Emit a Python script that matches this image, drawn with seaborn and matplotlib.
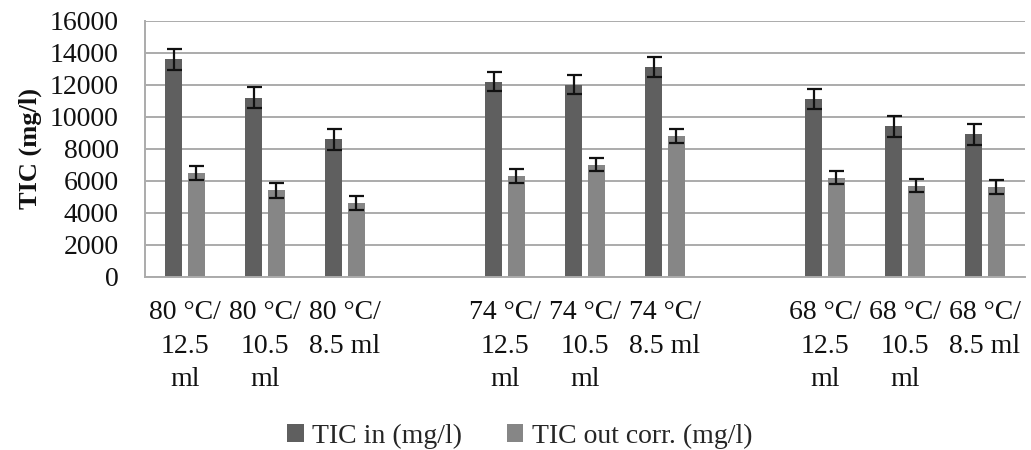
import matplotlib
matplotlib.use("Agg")
import matplotlib.pyplot as plt
import seaborn as sns
import pandas as pd

# Conditions (temperature / volume); blank slots separate the temperature groups
conditions = ["80 °C/\n12.5\nml", "80 °C/\n10.5\nml", "80 °C/\n8.5 ml",
              "74 °C/\n12.5\nml", "74 °C/\n10.5\nml", "74 °C/\n8.5 ml",
              "68 °C/\n12.5\nml", "68 °C/\n10.5\nml", "68 °C/\n8.5 ml"]
axis_order = conditions[0:3] + [" "] + conditions[3:6] + ["  "] + conditions[6:9]

series_names = ["TIC in (mg/l)", "TIC out corr. (mg/l)"]
tic_in = [13600, 11200, 8600, 12200, 12000, 13100, 11100, 9400, 8900]
tic_out = [6500, 5400, 4600, 6300, 7000, 8800, 6200, 5700, 5600]
tic_in_err = [650, 630, 650, 620, 600, 620, 620, 650, 650]
tic_out_err = [450, 450, 440, 460, 420, 440, 430, 420, 440]

y_ticks = list(range(0, 16001, 2000))

df = pd.DataFrame({
    "condition": conditions * 2,
    "series": [series_names[0]] * len(conditions) + [series_names[1]] * len(conditions),
    "value": tic_in + tic_out,
})
errors = {series_names[0]: dict(zip(conditions, tic_in_err)),
          series_names[1]: dict(zip(conditions, tic_out_err))}

sns.set_theme(style="white")
plt.rcParams["font.family"] = ["Liberation Serif", "DejaVu Serif"]

fig = plt.figure(figsize=(10.31, 4.5), dpi=100)
ax = fig.add_axes([0.1406, 0.385, 0.8536, 0.569])

colors = ["#5f5f5f", "#868686"]
sns.barplot(data=df, x="condition", y="value", hue="series", order=axis_order,
            hue_order=series_names, palette=colors, width=0.57, gap=0.254,
            errorbar=None, linewidth=0, saturation=1, ax=ax)

# Error bars on each bar
for name, container in zip(series_names, ax.containers):
    for bar in container:
        xc = bar.get_x() + bar.get_width() / 2
        h = bar.get_height()
        cat = axis_order[int(round(xc))]
        ax.errorbar(xc, h, yerr=errors[name][cat], fmt="none", ecolor="#111111",
                    elinewidth=1.6, capsize=5.4, capthick=1.6, zorder=5)

ax.set_ylim(0, 16000)
ax.set_xlim(-0.5, len(axis_order) - 0.5)
ax.set_yticks(y_ticks)
ax.set_yticklabels([str(v) for v in y_ticks], fontsize=20, color="#111111")
ax.grid(axis="y", color="#ababab", linewidth=1.4)
ax.set_axisbelow(True)
for side in ["top", "right"]:
    ax.spines[side].set_visible(False)
for side in ["left", "bottom"]:
    ax.spines[side].set_color("#ababab")
    ax.spines[side].set_linewidth(1.4)
ax.tick_params(axis="y", length=0, pad=19)
ax.tick_params(axis="x", length=0, pad=17)
ax.set_xticks(range(len(axis_order)))
ax.set_xticklabels(axis_order, fontsize=20, color="#111111", linespacing=1.45,
                   ha="center", va="top")
ax.set_xlabel("")
ax.set_ylabel("TIC (mg/l)", fontsize=19, fontweight="bold", color="#111111", labelpad=8)
ax.yaxis.set_label_coords(-0.117, 0.5)

handles, labels = ax.get_legend_handles_labels()
if ax.get_legend() is not None:
    ax.get_legend().remove()
fig.legend(handles, labels, loc="center", bbox_to_anchor=(0.504, 0.031), ncol=2,
           frameon=False, fontsize=20, handlelength=0.6, handleheight=0.6,
           handletextpad=0.3, columnspacing=1.6)

fig.savefig("out.png", dpi=100)
